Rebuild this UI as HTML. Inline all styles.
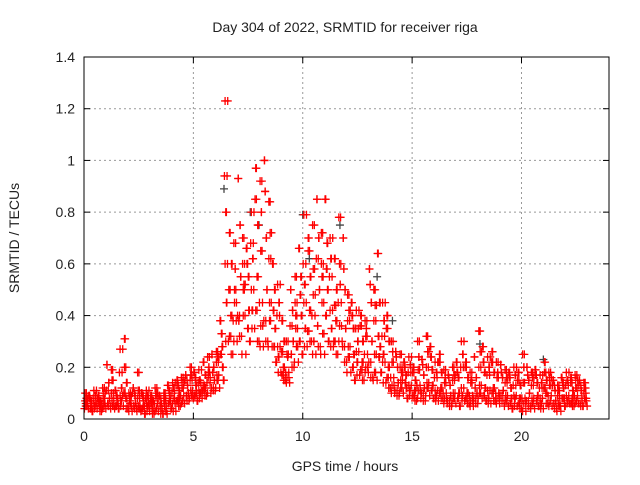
<!DOCTYPE html>
<html><head><meta charset="utf-8"><style>
body{margin:0;background:#fff;font-family:"Liberation Sans",sans-serif}
svg text{font-family:"Liberation Sans",sans-serif;font-size:14px;fill:#222}
</style></head><body>
<svg id="chart" width="640" height="480" xmlns="http://www.w3.org/2000/svg">
<rect width="640" height="480" fill="#fff"/>
<text x="345" y="32" text-anchor="middle">Day 304 of 2022, SRMTID for receiver riga</text>
<text transform="translate(19,238) rotate(-90)" text-anchor="middle">SRMTID / TECUs</text>
<text x="345" y="471" text-anchor="middle">GPS time / hours</text>
<g id="grid"></g><g id="marks"></g><g id="axes"></g>
</svg>
<script>
const xTicks=[0,5,10,15,20];
const yTicks=[0,0.2,0.4,0.6,0.8,1,1.2,1.4];
const yTickLabels=["0","0.2","0.4","0.6","0.8","1","1.2","1.4"];
const binHours=0.2;
const lo=[.04,.03,.04,.03,.04,.05,.04,.04,.05,.04,.03,.04,.03,.02,.03,.02,.03,.02,.02,.04,.03,.05,.06,.07,.08,.07,.08,.09,.10,.11,.12,.15,.30,.25,.30,.32,.25,.30,.35,.30,.28,.30,.28,.22,.18,.15,.14,.20,.22,.25,.28,.30,.25,.28,.25,.30,.28,.25,.30,.22,.18,.15,.17,.15,.18,.16,.15,.18,.14,.12,.10,.09,.10,.08,.09,.07,.08,.07,.09,.08,.07,.08,.06,.05,.06,.05,.07,.06,.05,.06,.08,.07,.06,.07,.06,.07,.05,.04,.05,.04,.03,.05,.04,.05,.04,.06,.05,.04,.03,.05,.06,.05,.06,.05,.05];
const m1=[.06,.05,.06,.05,.06,.08,.07,.06,.09,.08,.05,.06,.05,.05,.06,.04,.06,.04,.05,.07,.06,.08,.09,.10,.11,.10,.11,.12,.14,.15,.17,.20,.60,.40,.38,.55,.40,.42,.50,.55,.45,.50,.45,.35,.28,.20,.18,.30,.35,.40,.45,.42,.40,.50,.45,.50,.42,.38,.45,.35,.28,.25,.26,.22,.25,.30,.25,.28,.22,.20,.16,.14,.15,.12,.13,.11,.13,.12,.14,.13,.11,.12,.10,.09,.10,.10,.12,.10,.09,.10,.13,.12,.11,.12,.10,.11,.09,.08,.09,.08,.08,.10,.08,.09,.08,.10,.09,.07,.06,.08,.09,.08,.09,.08,.08];
const m2=[.07,.07,.08,.07,.08,.14,.10,.08,.18,.14,.07,.09,.08,.07,.08,.07,.09,.06,.07,.09,.10,.11,.12,.13,.15,.13,.14,.17,.18,.20,.22,.28,.94,.60,.50,.75,.60,.55,.68,.75,.65,.70,.62,.50,.40,.30,.25,.42,.45,.55,.60,.55,.58,.70,.60,.68,.55,.50,.60,.50,.38,.35,.35,.30,.32,.45,.38,.45,.32,.30,.22,.20,.20,.17,.18,.15,.19,.17,.20,.19,.16,.18,.14,.13,.15,.16,.20,.16,.14,.16,.20,.18,.17,.18,.16,.16,.14,.12,.13,.13,.14,.15,.13,.14,.12,.15,.13,.11,.09,.12,.13,.11,.12,.11,.10];
const hi=[.10,.09,.11,.09,.12,.21,.19,.11,.27,.31,.10,.12,.18,.10,.11,.09,.12,.09,.10,.13,.14,.15,.16,.17,.20,.18,.19,.22,.24,.25,.26,.38,1.23,.72,.68,.93,.70,.66,.80,.97,.92,1.00,.84,.60,.52,.38,.30,.50,.55,.66,.79,.70,.75,.85,.72,.85,.70,.62,.78,.70,.48,.45,.42,.40,.38,.58,.50,.64,.45,.40,.30,.26,.25,.22,.24,.20,.30,.23,.32,.28,.22,.25,.19,.17,.20,.22,.30,.22,.18,.24,.34,.28,.24,.26,.22,.21,.19,.18,.20,.18,.25,.20,.18,.19,.17,.22,.18,.15,.13,.16,.18,.16,.17,.15,.14];
const m3=[.08,.04,.09,.06,.05,.11,.05,.09,.12,.20,.06,.10,.04,.09,.05,.08,.04,.08,.03,.11,.08,.13,.07,.15,.09,.16,.10,.13,.20,.12,.24,.33,.45,.32,.58,.40,.52,.35,.62,.42,.80,.38,.72,.28,.45,.17,.24,.36,.28,.48,.35,.65,.30,.62,.33,.58,.35,.44,.52,.28,.42,.20,.30,.19,.35,.22,.44,.24,.38,.16,.26,.11,.18,.14,.21,.09,.24,.10,.26,.11,.18,.10,.16,.07,.17,.08,.25,.08,.15,.08,.26,.09,.20,.10,.18,.09,.16,.06,.17,.06,.20,.07,.16,.07,.14,.18,.07,.13,.05,.14,.07,.14,.07,.13,.07];
const m4=[.05,.08,.05,.08,.10,.06,.15,.05,.07,.10,.09,.05,.11,.04,.09,.06,.10,.05,.08,.06,.12,.07,.14,.09,.17,.09,.15,.11,.16,.18,.15,.25,.80,.50,.45,.38,.50,.60,.42,.85,.36,.88,.38,.42,.24,.26,.16,.25,.40,.30,.52,.34,.48,.36,.55,.40,.62,.30,.36,.58,.24,.40,.22,.36,.20,.52,.18,.32,.25,.35,.13,.24,.12,.20,.11,.18,.11,.21,.12,.24,.09,.22,.08,.16,.08,.18,.09,.20,.07,.12,.10,.22,.08,.22,.08,.18,.07,.16,.08,.15,.06,.17,.06,.17,.06,.12,.16,.06,.11,.08,.15,.06,.15,.06,.12];
const greyT=[6.4,7.6,8.0,10.0,10.3,11.7,13.4,14.1,18.1,21.0];
const greyV=[0.89,0.8,0.75,0.79,0.62,0.75,0.55,0.38,0.29,0.23];
const X0=84,X1=609,Y0=419,Y1=57,XMAX=24,YMAX=1.4;
const sx=v=>X0+(X1-X0)*v/XMAX, sy=v=>Y0-(Y0-Y1)*v/YMAX;
const NS="http://www.w3.org/2000/svg";
function mk(tag,attrs,parent){const e=document.createElementNS(NS,tag);for(const k in attrs)e.setAttribute(k,attrs[k]);parent.appendChild(e);return e;}
const grid=document.getElementById('grid'),axes=document.getElementById('axes'),marks=document.getElementById('marks');
xTicks.forEach(t=>{const x=sx(t);
 if(t>0){const g=mk('line',{x1:x,x2:x,y1:Y0,y2:Y1,stroke:'#999','stroke-dasharray':'2,3'},grid);
 
 }
 mk('line',{x1:x,x2:x,y1:Y0,y2:Y0-6,stroke:'#000'},axes);mk('line',{x1:x,x2:x,y1:Y1,y2:Y1+6,stroke:'#000'},axes);
 const l=mk('text',{x:x,y:Y0+22,'text-anchor':'middle'},axes);l.textContent=t;
 
 });
yTicks.forEach((t,i)=>{const y=sy(t);
 if(t>0&&t<YMAX){const g=mk('line',{x1:X0,x2:X1,y1:y,y2:y,stroke:'#999','stroke-dasharray':'2,3'},grid);
 
 }
 mk('line',{x1:X0,x2:X0+6,y1:y,y2:y,stroke:'#000'},axes);mk('line',{x1:X1,x2:X1-6,y1:y,y2:y,stroke:'#000'},axes);
 const l=mk('text',{x:X0-9,y:y+5,'text-anchor':'end'},axes);l.textContent=yTickLabels[i];
 
 });
const fr=mk('rect',{x:X0,y:Y1,width:X1-X0,height:Y0-Y1,fill:'none',stroke:'#000'},axes);


function plus(t,v,col){const x=sx(t),y=sy(v);
 const p=mk('path',{d:`M${x-4},${y}h8M${x},${y-4}v8`,stroke:col,'stroke-width':1.3},marks);
 
 }
greyT.forEach((t,i)=>plus(t,greyV[i],'#444'));
const series=[lo,m3,m1,m4,m2,hi];
const offs=[0.02,0.17,0.08,0.13,0.05,0.11];
series.forEach((arr,k)=>arr.forEach((v,i)=>{
 plus(i*binHours+offs[(k+i)%6],v,'#f00');
 const other=series[(k+2+i)%6];
 plus(i*binHours+offs[(k+i+3)%6]+0.03,other[i],'#f00');
}));
</script>
</body></html>
